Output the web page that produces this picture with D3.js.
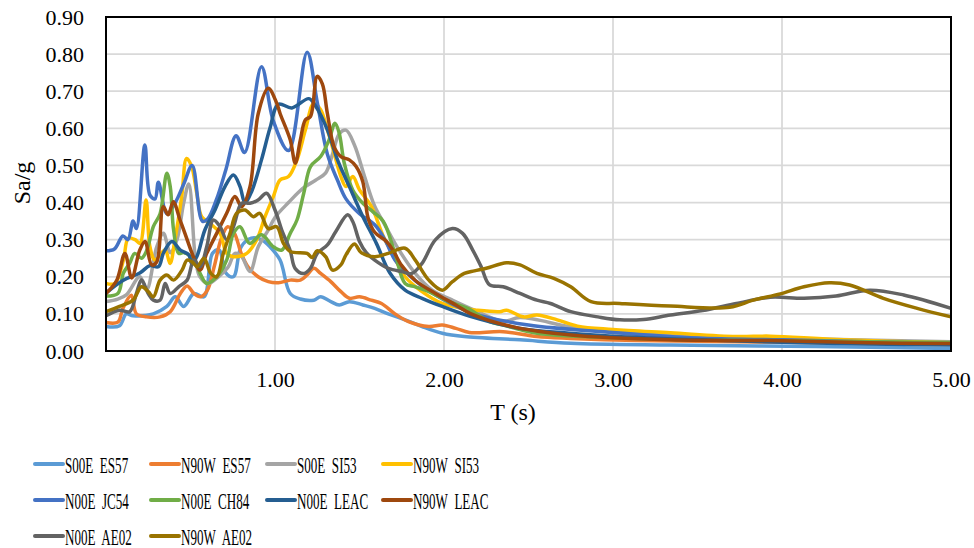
<!DOCTYPE html>
<html>
<head>
<meta charset="utf-8">
<script src="https://cdn.jsdelivr.net/npm/d3@7"></script>
<style>
  body { margin: 0; background: #fff; }
  text { font-family: "Liberation Serif", "Times New Roman", serif; fill: #000; }
</style>
</head>
<body>
<div id="chart"></div>
<script>
// period (s) / Sa(g) pairs
var s00eEs57T  = [0,0.08,0.12,0.16,0.28,0.36,0.41,0.46,0.52,0.58,0.63,0.67,0.71,0.754,0.80,0.86,0.92,0.97,1.03,1.09,1.15,1.23,1.27,1.33,1.38,1.44,1.52,1.59,1.67,1.77,1.87,1.99,2.12,2.45,2.75,3.34,4.2,5.0]
var s00eEs57Sa = [0.066,0.068,0.10,0.095,0.10,0.12,0.146,0.12,0.155,0.146,0.263,0.272,0.21,0.20,0.281,0.304,0.30,0.281,0.245,0.155,0.14,0.137,0.146,0.133,0.124,0.133,0.124,0.115,0.10,0.084,0.066,0.048,0.039,0.03,0.021,0.016,0.012,0.007]

var n90wEs57T  = [0,0.07,0.10,0.15,0.18,0.24,0.32,0.38,0.44,0.48,0.52,0.56,0.60,0.64,0.68,0.72,0.76,0.80,0.84,0.90,0.96,1.02,1.09,1.15,1.19,1.23,1.27,1.33,1.39,1.44,1.50,1.57,1.63,1.71,1.79,1.91,1.99,2.07,2.15,2.35,2.55,2.75,3.14,3.93,5.0]
var n90wEs57Sa = [0.077,0.078,0.115,0.15,0.10,0.092,0.092,0.106,0.155,0.175,0.155,0.146,0.164,0.227,0.30,0.335,0.317,0.263,0.227,0.20,0.187,0.184,0.191,0.191,0.205,0.223,0.209,0.187,0.16,0.142,0.146,0.137,0.128,0.10,0.079,0.066,0.07,0.061,0.05,0.052,0.039,0.034,0.028,0.024,0.019]

var s00eSi53T  = [0,0.07,0.12,0.20,0.24,0.30,0.34,0.38,0.42,0.46,0.49,0.53,0.556,0.605,0.665,0.724,0.763,0.803,0.852,0.901,0.96,1.0,1.08,1.17,1.24,1.30,1.34,1.38,1.42,1.47,1.53,1.59,1.65,1.73,1.83,1.93,2.05,2.18,2.35,2.45,2.75,3.0,4.0,5.0]
var s00eSi53Sa = [0.133,0.14,0.151,0.20,0.165,0.28,0.317,0.265,0.30,0.40,0.45,0.245,0.20,0.182,0.20,0.227,0.263,0.254,0.214,0.281,0.326,0.36,0.40,0.44,0.46,0.48,0.53,0.585,0.595,0.555,0.47,0.39,0.34,0.275,0.209,0.164,0.137,0.11,0.08,0.09,0.065,0.05,0.035,0.025]

var n90wSi53T  = [0,0.053,0.103,0.132,0.172,0.201,0.237,0.26,0.29,0.349,0.379,0.408,0.448,0.477,0.507,0.537,0.566,0.615,0.675,0.714,0.754,0.833,0.892,0.941,0.99,1.03,1.08,1.13,1.18,1.23,1.27,1.31,1.35,1.39,1.42,1.46,1.50,1.57,1.64,1.70,1.77,1.87,1.99,2.11,2.19,2.33,2.37,2.47,2.55,2.67,2.79,3.0,3.34,3.73,3.93,4.32,5.0]
var n90wSi53Sa = [0.182,0.182,0.245,0.304,0.30,0.29,0.407,0.281,0.245,0.272,0.236,0.30,0.416,0.519,0.497,0.425,0.362,0.344,0.317,0.263,0.254,0.263,0.30,0.362,0.416,0.461,0.47,0.515,0.596,0.668,0.65,0.596,0.533,0.47,0.443,0.47,0.434,0.39,0.31,0.258,0.20,0.16,0.128,0.115,0.11,0.106,0.11,0.092,0.097,0.084,0.067,0.058,0.049,0.039,0.04,0.031,0.022]

var n00eJc54T  = [0,0.05,0.10,0.13,0.16,0.18,0.23,0.26,0.29,0.31,0.36,0.41,0.46,0.51,0.57,0.60,0.655,0.71,0.77,0.82,0.92,0.99,1.08,1.19,1.25,1.31,1.37,1.42,1.50,1.59,1.65,1.71,1.77,1.87,1.99,2.18,2.5,3.0,3.5,4.0,4.5,5.0]
var n00eJc54Sa = [0.27,0.275,0.31,0.30,0.35,0.33,0.555,0.42,0.41,0.455,0.37,0.40,0.45,0.50,0.35,0.355,0.41,0.49,0.58,0.535,0.766,0.62,0.54,0.805,0.67,0.53,0.46,0.41,0.37,0.34,0.30,0.245,0.215,0.175,0.14,0.10,0.07,0.05,0.035,0.03,0.025,0.02]

var n00eCh84T  = [0,0.07,0.103,0.14,0.17,0.21,0.24,0.28,0.32,0.36,0.38,0.40,0.43,0.46,0.52,0.556,0.596,0.655,0.714,0.754,0.793,0.85,0.92,0.99,1.04,1.09,1.13,1.17,1.21,1.27,1.32,1.355,1.38,1.41,1.46,1.52,1.58,1.64,1.71,1.77,1.83,1.91,2.03,2.14,2.27,2.35,2.55,3.14,3.93,5.0]
var n00eCh84Sa = [0.148,0.155,0.21,0.236,0.263,0.25,0.27,0.335,0.37,0.479,0.443,0.326,0.263,0.265,0.245,0.21,0.182,0.20,0.245,0.317,0.335,0.29,0.313,0.281,0.272,0.317,0.353,0.425,0.497,0.524,0.569,0.614,0.587,0.506,0.434,0.398,0.375,0.35,0.263,0.182,0.173,0.16,0.133,0.115,0.079,0.07,0.048,0.034,0.028,0.023]

var n00eLeacT  = [0,0.10,0.20,0.26,0.31,0.34,0.39,0.44,0.49,0.507,0.537,0.585,0.645,0.704,0.754,0.793,0.822,0.862,0.92,0.97,1.02,1.10,1.20,1.24,1.31,1.37,1.44,1.52,1.60,1.68,1.77,1.87,1.99,2.15,2.45,2.74,3.0,3.53,4.12,5.0]
var n00eLeacSa = [0.156,0.19,0.21,0.23,0.227,0.264,0.295,0.272,0.259,0.236,0.254,0.326,0.38,0.443,0.474,0.443,0.40,0.43,0.515,0.60,0.665,0.655,0.68,0.66,0.596,0.515,0.443,0.362,0.29,0.21,0.164,0.142,0.12,0.094,0.061,0.048,0.04,0.03,0.022,0.016]

var n90wLeacT  = [0,0.063,0.112,0.152,0.20,0.231,0.27,0.30,0.339,0.368,0.398,0.438,0.467,0.517,0.556,0.596,0.655,0.714,0.763,0.803,0.852,0.901,0.96,1.01,1.03,1.09,1.12,1.15,1.18,1.21,1.25,1.28,1.31,1.35,1.39,1.44,1.48,1.52,1.55,1.59,1.66,1.70,1.75,1.83,1.95,2.07,2.16,2.41,2.75,3.34,3.93,4.52,5.0]
var n90wLeacSa = [0.155,0.19,0.263,0.197,0.272,0.295,0.232,0.24,0.389,0.367,0.402,0.353,0.317,0.254,0.218,0.263,0.317,0.371,0.416,0.389,0.443,0.64,0.708,0.668,0.64,0.569,0.506,0.569,0.623,0.632,0.74,0.72,0.64,0.55,0.524,0.515,0.497,0.455,0.36,0.32,0.295,0.27,0.23,0.19,0.155,0.124,0.10,0.065,0.043,0.03,0.028,0.022,0.02]

var n00eAe02T  = [0,0.08,0.14,0.18,0.21,0.25,0.28,0.32,0.35,0.38,0.43,0.48,0.52,0.556,0.596,0.635,0.675,0.714,0.754,0.803,0.852,0.90,0.95,1.0,1.04,1.09,1.12,1.17,1.21,1.25,1.31,1.36,1.43,1.46,1.50,1.54,1.59,1.67,1.75,1.81,1.87,1.95,2.05,2.11,2.17,2.22,2.27,2.35,2.45,2.55,2.63,2.75,2.91,3.04,3.18,3.34,3.53,3.73,3.93,4.13,4.32,4.52,4.72,5.0]
var n00eAe02Sa = [0.095,0.11,0.106,0.155,0.191,0.155,0.137,0.137,0.182,0.155,0.173,0.191,0.245,0.227,0.281,0.353,0.335,0.30,0.335,0.398,0.398,0.407,0.425,0.38,0.326,0.27,0.222,0.209,0.223,0.263,0.286,0.322,0.367,0.349,0.295,0.265,0.245,0.223,0.214,0.209,0.236,0.30,0.33,0.317,0.272,0.227,0.178,0.173,0.155,0.137,0.128,0.106,0.092,0.084,0.085,0.097,0.109,0.128,0.145,0.142,0.148,0.164,0.151,0.115]

var n90wAe02T  = [0,0.08,0.16,0.21,0.25,0.28,0.32,0.36,0.40,0.45,0.48,0.51,0.54,0.58,0.62,0.655,0.694,0.734,0.773,0.822,0.872,0.91,0.96,1.01,1.05,1.09,1.19,1.22,1.25,1.30,1.34,1.39,1.42,1.47,1.51,1.59,1.67,1.77,1.83,1.91,1.99,2.05,2.12,2.18,2.25,2.37,2.45,2.55,2.65,2.75,2.87,3.04,3.34,3.69,3.83,3.99,4.13,4.28,4.40,4.60,4.80,5.0]
var n90wAe02Sa = [0.106,0.12,0.137,0.173,0.16,0.146,0.191,0.205,0.191,0.218,0.245,0.24,0.227,0.25,0.209,0.20,0.263,0.317,0.371,0.38,0.362,0.371,0.33,0.335,0.29,0.268,0.263,0.252,0.27,0.254,0.218,0.232,0.259,0.288,0.265,0.254,0.263,0.277,0.245,0.191,0.164,0.187,0.209,0.216,0.223,0.238,0.232,0.209,0.196,0.173,0.133,0.128,0.121,0.118,0.137,0.154,0.173,0.184,0.178,0.142,0.115,0.092]

// legend labels use two spaces between direction and station
var seriesNames = ["S00E\u00a0 ES57","N90W\u00a0 ES57","S00E\u00a0 SI53","N90W\u00a0 SI53","N00E\u00a0 JC54","N00E\u00a0 CH84","N00E\u00a0 LEAC","N90W\u00a0 LEAC","N00E\u00a0 AE02","N90W\u00a0 AE02"]
var seriesColors = ["#5b9bd5","#ed7d31","#a5a5a5","#ffc000","#4472c4","#70ad47","#255e91","#9e480e","#636363","#997300"]
var seriesT = [s00eEs57T,n90wEs57T,s00eSi53T,n90wSi53T,n00eJc54T,n00eCh84T,n00eLeacT,n90wLeacT,n00eAe02T,n90wAe02T]
var seriesSa = [s00eEs57Sa,n90wEs57Sa,s00eSi53Sa,n90wSi53Sa,n00eJc54Sa,n00eCh84Sa,n00eLeacSa,n90wLeacSa,n00eAe02Sa,n90wAe02Sa]

var xTicks = [1,2,3,4,5]
var yTicks = [0,0.1,0.2,0.3,0.4,0.5,0.6,0.7,0.8,0.9]

var width = 974, height = 548
var plot = {left: 106, right: 951, top: 17, bottom: 351}

var svg = d3.select("#chart").append("svg")
  .attr("width", width)
  .attr("height", height)

var x = d3.scaleLinear().domain([0, 5]).range([plot.left, plot.right])
var y = d3.scaleLinear().domain([0, 0.9]).range([plot.bottom, plot.top])

// gridlines
svg.append("g").selectAll("line")
  .data(yTicks.slice(1))
  .enter().append("line")
    .attr("x1", plot.left).attr("x2", plot.right)
    .attr("y1", function(d){ return y(d) }).attr("y2", function(d){ return y(d) })
    .attr("stroke", "#d9d9d9").attr("stroke-width", 1.75)

svg.append("g").selectAll("line")
  .data(xTicks)
  .enter().append("line")
    .attr("x1", function(d){ return x(d) }).attr("x2", function(d){ return x(d) })
    .attr("y1", plot.top).attr("y2", plot.bottom)
    .attr("stroke", "#d9d9d9").attr("stroke-width", 1.75)

// tick labels
var yAxis = d3.axisLeft(y).tickValues(yTicks).tickFormat(d3.format(".2f")).tickSize(0).tickPadding(22)
svg.append("g")
  .attr("transform", "translate(" + plot.left + ",0)")
  .call(yAxis)
  .call(function(g){ g.select(".domain").remove() })
  .selectAll("text")
    .style("font-size", "22px")
    .style("font-family", "'Liberation Serif', 'Times New Roman', serif")
    .attr("fill", "#000")

var xAxis = d3.axisBottom(x).tickValues(xTicks).tickFormat(d3.format(".2f")).tickSize(0).tickPadding(20)
svg.append("g")
  .attr("transform", "translate(0," + plot.bottom + ")")
  .call(xAxis)
  .call(function(g){ g.select(".domain").remove() })
  .selectAll("text")
    .style("font-size", "22px")
    .style("font-family", "'Liberation Serif', 'Times New Roman', serif")
    .attr("fill", "#000")

// series
var line = d3.line()
  .x(function(d){ return x(d[0]) })
  .y(function(d){ return y(d[1]) })
  .curve(d3.curveCatmullRom.alpha(0.5))

svg.append("clipPath").attr("id", "plotClip")
  .append("rect")
    .attr("x", plot.left).attr("y", plot.top)
    .attr("width", plot.right - plot.left).attr("height", plot.bottom - plot.top)

svg.append("g")
  .attr("clip-path", "url(#plotClip)")
  .selectAll("path")
  .data(seriesNames.map(function(n, i){ return d3.zip(seriesT[i], seriesSa[i]) }))
  .enter().append("path")
    .attr("d", line)
    .attr("fill", "none")
    .attr("stroke", function(d, i){ return seriesColors[i] })
    .attr("stroke-width", 3.5)
    .attr("stroke-linejoin", "round")
    .attr("stroke-linecap", "round")

// frame
svg.append("rect")
  .attr("x", plot.left).attr("y", plot.top)
  .attr("width", plot.right - plot.left).attr("height", plot.bottom - plot.top)
  .attr("fill", "none")
  .attr("stroke", "#000")
  .attr("stroke-width", 2)

// axis titles
svg.append("text")
  .attr("transform", "translate(30,183) rotate(-90)")
  .attr("text-anchor", "middle")
  .style("font-size", "24px")
  .text("Sa/g")

svg.append("text")
  .attr("x", 513)
  .attr("y", 420)
  .attr("text-anchor", "middle")
  .style("font-size", "24px")
  .text("T (s)")

// legend, 4 per row, text squeezed like the original
var colW = 116, rowH = 36
var legend = svg.append("g").attr("transform", "translate(35,464)")
var item = legend.selectAll("g")
  .data(seriesNames)
  .enter().append("g")
    .attr("transform", function(d, i){ return "translate(" + (i % 4) * colW + "," + Math.floor(i / 4) * rowH + ")" })

item.append("line")
  .attr("x1", 0).attr("x2", 28)
  .attr("y1", 0).attr("y2", 0)
  .attr("stroke", function(d, i){ return seriesColors[i] })
  .attr("stroke-width", 4)
  .attr("stroke-linecap", "round")

item.append("text")
  .attr("transform", "translate(30,8.5) scale(0.545,1)")
  .style("font-size", "24px")
  .text(function(d){ return d })
</script>
</body>
</html>
